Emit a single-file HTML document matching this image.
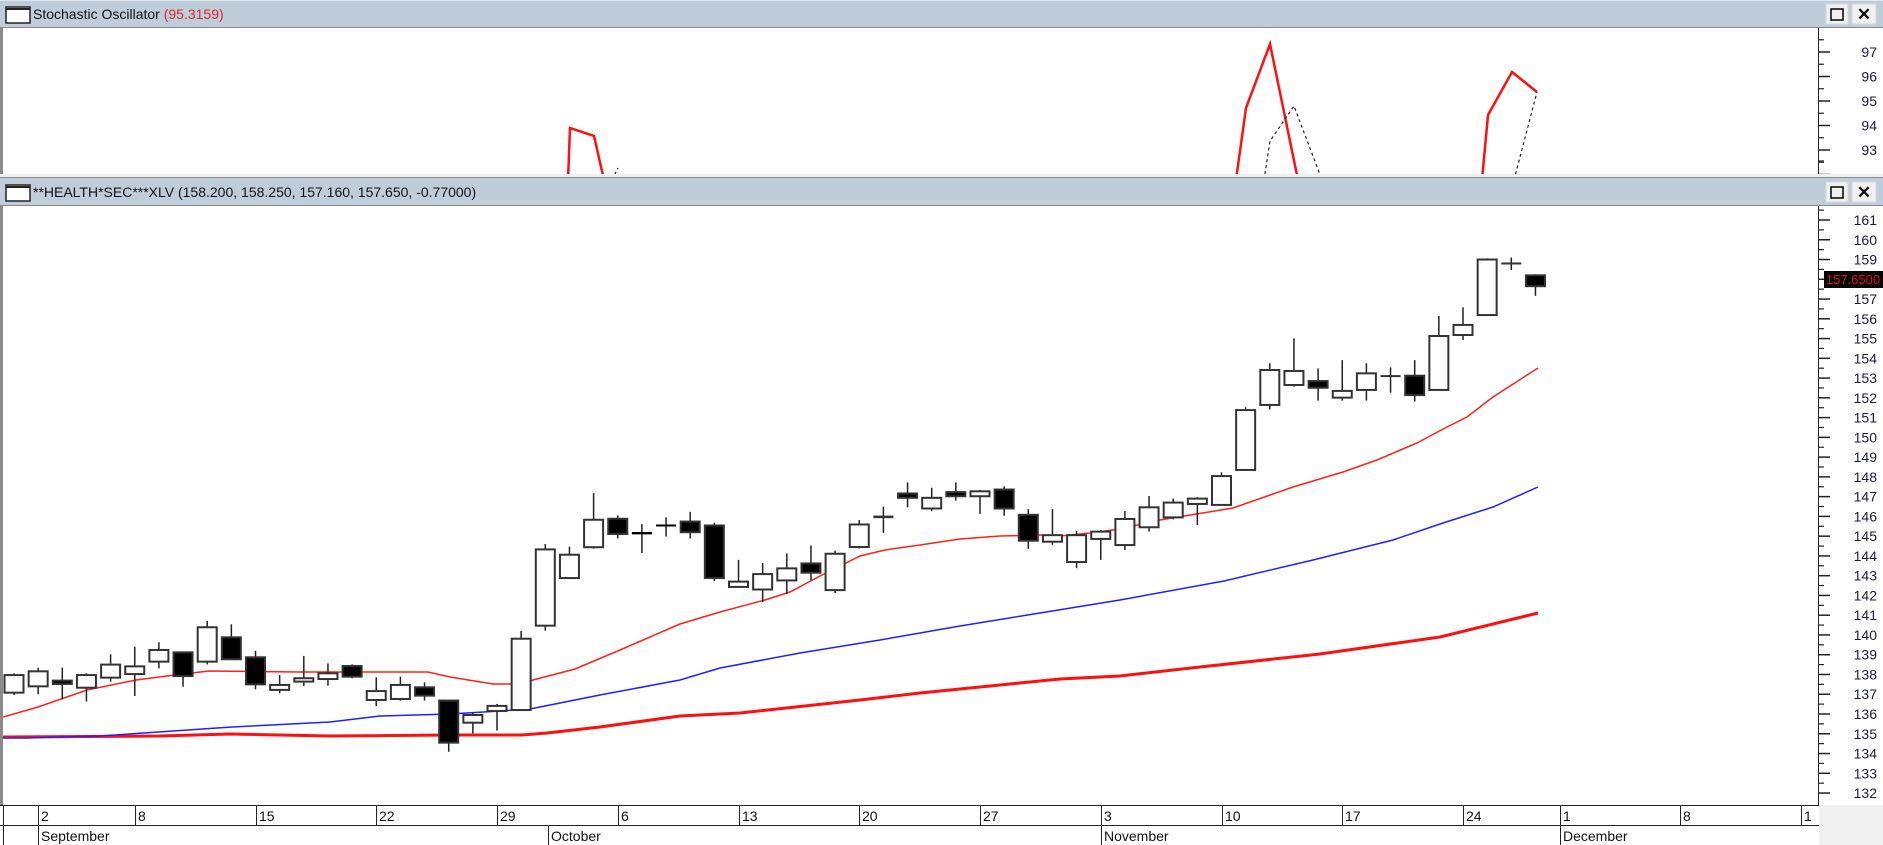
<!DOCTYPE html>
<html><head><meta charset="utf-8"><style>
html,body{margin:0;padding:0;background:#fff;width:1883px;height:845px;overflow:hidden;font-family:"Liberation Sans",Arial,sans-serif}
svg{display:block}
</style></head><body>
<svg id="s" width="1883" height="845" xmlns="http://www.w3.org/2000/svg" font-family="Liberation Sans, Arial, sans-serif">
<rect x="0" y="0" width="1883" height="845" fill="#fff"/>
<rect x="0" y="0" width="1883" height="28" fill="#bfcddb"/>
<line x1="0" y1="27.5" x2="1883" y2="27.5" stroke="#8a8a8a"/>
<line x1="0" y1="0.5" x2="1883" y2="0.5" stroke="#e0e6ee"/>
<rect x="6" y="7" width="24" height="16" fill="#fff" stroke="#222" stroke-width="1.5"/>
<line x1="6" y1="9" x2="30" y2="9" stroke="#222" stroke-width="2"/>
<text x="33" y="19" font-size="14" fill="#111">Stochastic Oscillator <tspan fill="#e0242c">(95.3159)</tspan></text>
<rect x="1826" y="4" width="22" height="20" fill="#f0f0f0" stroke="#d8d8d8"/>
<rect x="1831" y="9" width="12" height="11" fill="none" stroke="#111" stroke-width="1.6"/>
<rect x="1852" y="4" width="24" height="20" fill="#f0f0f0" stroke="#d8d8d8"/>
<text x="1864" y="20" font-size="17" font-weight="bold" text-anchor="middle" fill="#111">✕</text>
<rect x="0" y="28" width="3" height="147" fill="#8a8a8a"/>
<line x1="1818.5" y1="28" x2="1818.5" y2="174" stroke="#222"/>
<g id="stoch"></g>
<rect x="0" y="174" width="1883" height="4" fill="#f0f0f0"/>
<line x1="0" y1="177.5" x2="1883" y2="177.5" stroke="#8a8a8a"/>
<rect x="0" y="178" width="1883" height="28" fill="#bfcddb"/>
<line x1="0" y1="205.5" x2="1883" y2="205.5" stroke="#8a8a8a"/>
<rect x="6" y="185" width="24" height="16" fill="#fff" stroke="#222" stroke-width="1.5"/>
<line x1="6" y1="187" x2="30" y2="187" stroke="#222" stroke-width="2"/>
<text x="33" y="197" font-size="14" fill="#111">**HEALTH*SEC***XLV (158.200, 158.250, 157.160, 157.650, -0.77000)</text>
<rect x="1826" y="182" width="22" height="20" fill="#f0f0f0" stroke="#d8d8d8"/>
<rect x="1831" y="187" width="12" height="11" fill="none" stroke="#111" stroke-width="1.6"/>
<rect x="1852" y="182" width="24" height="20" fill="#f0f0f0" stroke="#d8d8d8"/>
<text x="1864" y="198" font-size="17" font-weight="bold" text-anchor="middle" fill="#111">✕</text>
<rect x="0" y="206" width="3" height="600" fill="#8a8a8a"/>
<line x1="1818.5" y1="206" x2="1818.5" y2="805" stroke="#222"/>
<g id="main"></g>
<rect x="1819" y="805" width="64" height="40" fill="#f0f0f0"/>
<line x1="0" y1="805.5" x2="1819" y2="805.5" stroke="#222"/>
<line x1="0" y1="825.5" x2="1819" y2="825.5" stroke="#222"/>
<line x1="3.5" y1="805" x2="3.5" y2="845" stroke="#222"/>
<g id="dates" font-size="14" fill="#111"></g>
</svg>
<script>
var NS="http://www.w3.org/2000/svg";
function el(p,t,a,txt){var e=document.createElementNS(NS,t);for(var k in a)e.setAttribute(k,a[k]);if(txt!==undefined)e.textContent=txt;p.appendChild(e);return e;}
var svg=document.getElementById('s'),main=document.getElementById('main'),st=document.getElementById('stoch'),dt=document.getElementById('dates');
function Y(p){return 220+(161-p)*19.76;}
function X(i){return 14+i*24.15;}
for(var v=161;v>=132;v--){var y=Y(v);el(main,'line',{x1:1818,y1:y,x2:1830,y2:y,stroke:'#222','stroke-width':1.5});
el(main,'line',{x1:1818,y1:y-9.88,x2:1824,y2:y-9.88,stroke:'#222','stroke-width':1.2});
if(v!=158)el(main,'text',{x:1877,y:y+5,'font-size':14,'text-anchor':'end',fill:'#1a1a40'},v);}
for(var v=97;v>=92;v--){var y=52+(97-v)*24.5;el(st,'line',{x1:1818,y1:y,x2:1830,y2:y,stroke:'#222','stroke-width':1.5});
if(y-12>29)el(st,'line',{x1:1818,y1:y-12.25,x2:1824,y2:y-12.25,stroke:'#222','stroke-width':1.2});
if(v>=93)el(st,'text',{x:1877,y:y+5,'font-size':14,'text-anchor':'end',fill:'#1a1a40'},v);}
el(st,'line',{x1:1818,y1:161,x2:1824,y2:161,stroke:'#222','stroke-width':1.2});
var cpp=el(svg,'clipPath',{id:'cst'});el(cpp,'rect',{x:3,y:29,width:1815,height:145});
var sg=el(st,'g',{'clip-path':'url(#cst)'});
['M568 180 L570 128 L594 136 L604 180','M1236 180 L1246 108 L1270 44 L1298 180','M1482 180 L1488 115 L1512 72 L1537 92'].forEach(function(d){el(sg,'path',{d:d,fill:'none',stroke:'#ff1010','stroke-width':2.5});});
['M612 180 L618 168','M1264 180 L1270 141 L1294 106 L1322 180','M1514 180 L1537 92'].forEach(function(d){el(sg,'path',{d:d,fill:'none',stroke:'#222','stroke-width':1.2,'stroke-dasharray':'3,3'});});
var clip=el(svg,'clipPath',{id:'cm'});el(clip,'rect',{x:3,y:207,width:1815,height:598});
var mg=el(main,'g',{'clip-path':'url(#cm)'});
var red1=[[3,717],[38,707],[87,690],[136,680],[183,674],[209,671],[300,672],[428,672],[450,677],[493,684],[523,684],[533,680],[575,669],[620,650],[680,624],[720,612],[765,600],[790,592],[820,576],[860,556],[885,550],[920,545],[960,539],[1000,536],[1040,535],[1060,536],[1090,533],[1120,529],[1160,520],[1233,508],[1293,487],[1343,472],[1377,460],[1417,443],[1447,427],[1467,417],[1493,397],[1538,368]];
var blue=[[3,738],[27,738],[100,736],[232,727],[330,722],[380,716],[450,714],[500,711],[530,709],[560,703],[600,695],[680,680],[720,668],[800,653],[880,640],[960,626],[1040,613],[1120,600],[1224,581],[1313,560],[1393,540],[1443,523],[1493,507],[1538,487]];
var red2=[[3,737],[160,736],[230,734],[330,736],[450,735],[522,735],[547,733],[600,727],[680,716],[740,713],[860,700],[920,693],[1000,685],[1060,679],[1120,676],[1200,667],[1320,654],[1440,637],[1538,613]];
function pl(a){return a.map(function(p){return p[0]+','+p[1];}).join(' ');}
el(mg,'polyline',{points:pl(red2),fill:'none',stroke:'#ff1010','stroke-width':3});
el(mg,'polyline',{points:pl(blue),fill:'none',stroke:'#2020ff','stroke-width':1.5});
el(mg,'polyline',{points:pl(red1),fill:'none',stroke:'#ff2020','stroke-width':1.5});
var K=[[137.08,138.06,136.96,137.97],[137.4,138.35,137.0,138.16],[137.69,138.35,136.74,137.52],[137.33,138.06,136.63,137.97],[137.84,139.02,137.64,138.5],
[138.02,139.41,136.91,138.41],[138.65,139.63,138.31,139.24],[139.12,139.12,137.38,137.92],[138.65,140.71,138.51,140.39],[139.88,140.54,138.77,138.77],
[138.87,139.2,137.25,137.5],[137.22,137.97,137.05,137.47],[137.64,138.94,137.42,137.81],[137.77,138.56,137.43,138.06],[138.43,138.51,137.81,137.89],
[136.71,137.86,136.4,137.16],[136.76,137.89,136.68,137.47],[137.35,137.6,136.68,136.93],[136.68,136.68,134.09,134.55],[135.56,136.09,135.02,135.95],
[136.15,136.51,135.16,136.41],[136.2,140.2,136.2,139.81],[140.1,144.23,139.85,143.96],[142.51,144.1,142.5,143.69],[144.07,146.81,144.0,145.46],
[145.51,145.68,144.52,144.74],[144.79,145.24,143.78,144.67],[145.17,145.58,144.61,145.15],[145.37,145.86,144.52,144.83],[145.17,145.31,142.35,142.51],
[142.06,143.43,142.06,142.33],[141.93,143.27,141.3,142.71],[142.39,143.76,141.7,143.0],[143.25,144.16,142.39,142.78],[141.9,143.89,141.75,143.74],
[144.23,145.6,144.16,145.37],[145.64,146.27,144.95,145.77],[146.94,147.5,146.24,146.72],[146.18,147.23,146.04,146.72],[147.01,147.5,146.58,146.8],
[146.8,147.12,145.91,147.05],[147.14,147.3,145.82,146.18],[145.86,146.15,144.14,144.55],[144.5,146.15,144.34,144.83],[143.47,145.04,143.16,144.83],
[144.86,145.31,143.8,145.23],[144.55,146.27,144.3,145.87],[145.45,147.03,145.23,146.46],[145.95,146.9,145.85,146.7],[146.63,146.97,145.56,146.9],
[146.58,148.23,146.58,148.04],[148.35,151.52,148.35,151.38],[151.64,153.75,151.42,153.41],[152.65,155.01,152.57,153.36],[152.85,153.49,151.86,152.51],
[152.01,153.91,151.86,152.35],[152.4,153.75,151.86,153.24],[153.07,153.54,152.26,153.1],[153.12,153.91,151.81,152.14],[152.4,156.14,152.4,155.13],
[155.18,156.58,154.93,155.69],[156.19,159.06,156.19,159.0],[158.75,159.1,158.47,158.8],[158.2,158.25,157.16,157.65]];
K.forEach(function(k,i){var s=(i>=22&&i<=34)?0.37:((i>=35&&i<=44)?0.22:0);
var x=X(i),o=k[0]+s,h=k[1]+s,l=k[2]+s,c=k[3]+s;
el(mg,'line',{x1:x,y1:Y(h),x2:x,y2:Y(l),stroke:'#222','stroke-width':1.5});
var top=Y(Math.max(o,c)),bot=Y(Math.min(o,c));var hgt=Math.max(bot-top,1);
if(hgt<3){el(mg,'rect',{x:x-10,y:top-1,width:20,height:Math.max(hgt,2),fill:c<o?'#000':'#333'});}
else el(mg,'rect',{x:x-9.5,y:top,width:19,height:hgt,fill:c<o?'#000':'#fff',stroke:'#333','stroke-width':2});});
el(main,'rect',{x:1824,y:271,width:59,height:17,fill:'#000'});
el(main,'text',{x:1853,y:284,'font-size':13,'text-anchor':'middle',fill:'#e01010'},'157.6500');
[['2',38],['8',135],['15',256],['22',376],['29',497],['6',618],['13',739],['20',859],['27',980],['3',1101],['10',1222],['17',1342],['24',1463],['1',1560],['8',1680],['1',1801]].forEach(function(d){
el(dt,'line',{x1:d[1]+0.5,y1:805,x2:d[1]+0.5,y2:825,stroke:'#222'});el(dt,'text',{x:d[1]+3,y:821},d[0]);});
[['September',38],['October',548],['November',1101],['December',1560]].forEach(function(d){
el(dt,'line',{x1:d[1]+0.5,y1:825,x2:d[1]+0.5,y2:845,stroke:'#222'});el(dt,'text',{x:d[1]+3,y:841},d[0]);});
</script>
</body></html>
